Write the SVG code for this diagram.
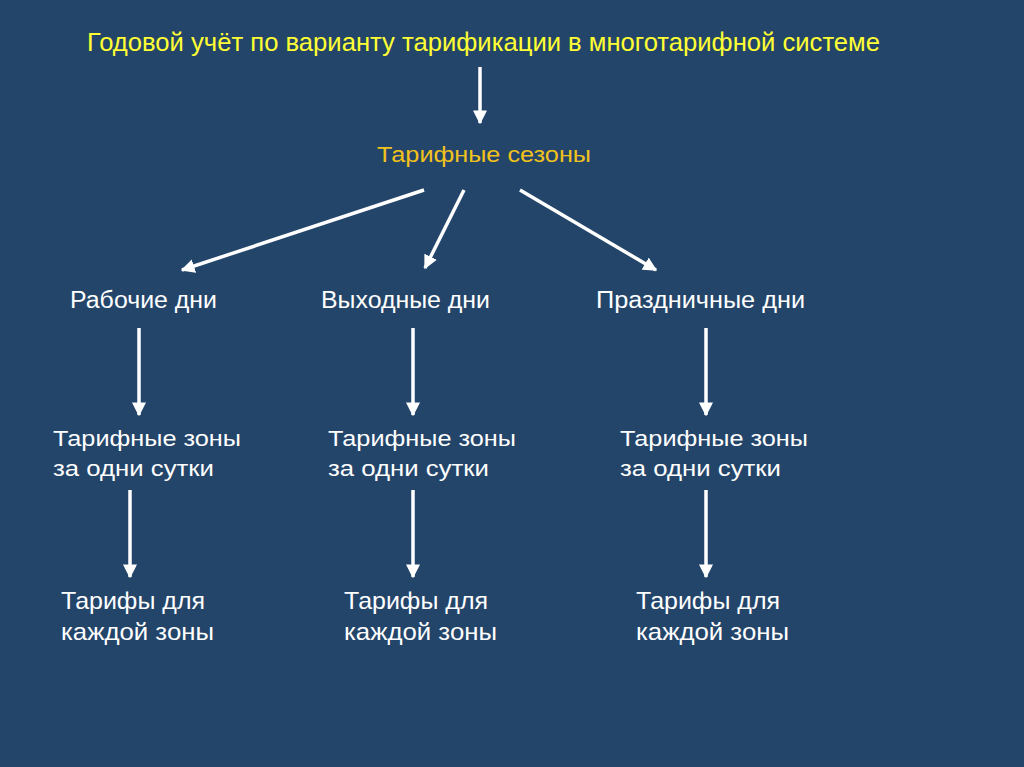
<svg xmlns="http://www.w3.org/2000/svg" width="1024" height="767" viewBox="0 0 1024 767">
<style>
text{font-family:"Liberation Sans",Arial,sans-serif;font-size:23px;fill:#ffffff}
.title{fill:#ffff33;font-size:25px}
.gold{fill:#f2c21c;font-size:22.5px}
.z{font-size:22px}
.t{font-size:24px}
.c{stroke:#ffffff;stroke-width:3.5;fill:none;marker-end:url(#ah)}
</style>
<defs>
<marker id="ah" viewBox="0 0 10 10" refX="9" refY="5" markerWidth="4" markerHeight="4" orient="auto" markerUnits="strokeWidth">
<path d="M0,0 L10,5 L0,10 z" fill="#ffffff"/>
</marker>
</defs>
<rect width="1024" height="767" fill="#24456a"/>
<g id="n-title"><text class="title" x="87" y="51" textLength="793" lengthAdjust="spacingAndGlyphs">Годовой учёт по варианту тарификации в многотарифной системе</text></g>
<g id="n-seasons"><text class="gold" x="377" y="162" textLength="214" lengthAdjust="spacingAndGlyphs">Тарифные сезоны</text></g>
<g id="n-work"><text x="70" y="308" textLength="147" lengthAdjust="spacingAndGlyphs">Рабочие дни</text></g>
<g id="n-weekend"><text x="321" y="308" textLength="169" lengthAdjust="spacingAndGlyphs">Выходные дни</text></g>
<g id="n-holiday"><text x="596" y="308" textLength="209" lengthAdjust="spacingAndGlyphs">Праздничные дни</text></g>
<g id="n-zones1"><text class="z" x="53" y="446" textLength="188" lengthAdjust="spacingAndGlyphs">Тарифные зоны</text><text class="z" x="53" y="476" textLength="161" lengthAdjust="spacingAndGlyphs">за одни сутки</text></g>
<g id="n-zones2"><text class="z" x="328" y="446" textLength="188" lengthAdjust="spacingAndGlyphs">Тарифные зоны</text><text class="z" x="328" y="476" textLength="161" lengthAdjust="spacingAndGlyphs">за одни сутки</text></g>
<g id="n-zones3"><text class="z" x="620" y="446" textLength="188" lengthAdjust="spacingAndGlyphs">Тарифные зоны</text><text class="z" x="620" y="476" textLength="161" lengthAdjust="spacingAndGlyphs">за одни сутки</text></g>
<g id="n-tariffs1"><text class="t" x="61" y="609" textLength="144" lengthAdjust="spacingAndGlyphs">Тарифы для</text><text class="t" x="61" y="640" textLength="153" lengthAdjust="spacingAndGlyphs">каждой зоны</text></g>
<g id="n-tariffs2"><text class="t" x="344" y="609" textLength="144" lengthAdjust="spacingAndGlyphs">Тарифы для</text><text class="t" x="344" y="640" textLength="153" lengthAdjust="spacingAndGlyphs">каждой зоны</text></g>
<g id="n-tariffs3"><text class="t" x="636" y="609" textLength="144" lengthAdjust="spacingAndGlyphs">Тарифы для</text><text class="t" x="636" y="640" textLength="153" lengthAdjust="spacingAndGlyphs">каждой зоны</text></g>
<g id="connectors">
<line class="c" x1="480" y1="67" x2="480" y2="123"/>
<line class="c" x1="424" y1="190" x2="182" y2="270"/>
<line class="c" x1="464" y1="190" x2="425" y2="268"/>
<line class="c" x1="520" y1="190" x2="656" y2="270"/>
<line class="c" x1="139" y1="328" x2="139" y2="415"/>
<line class="c" x1="413" y1="328" x2="413" y2="415"/>
<line class="c" x1="706" y1="328" x2="706" y2="415"/>
<line class="c" x1="130" y1="490" x2="130" y2="577"/>
<line class="c" x1="413" y1="490" x2="413" y2="577"/>
<line class="c" x1="706" y1="490" x2="706" y2="577"/>
</g>
</svg>
